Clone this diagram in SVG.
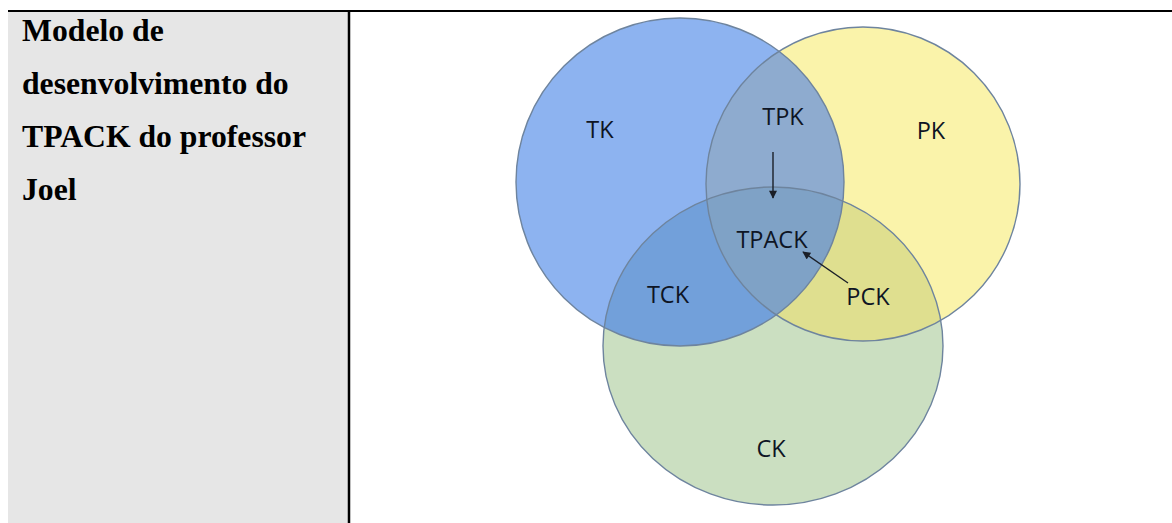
<svg xmlns="http://www.w3.org/2000/svg" width="1172" height="523" viewBox="0 0 1172 523">
  <style>
    .cell-title { font-family: "Liberation Serif", "Times New Roman", serif; font-weight: bold; font-size: 31.7px; fill: #000; }
    .lbl { font-family: "Open Sans", "Noto Sans", sans-serif; font-size: 23.5px; fill: #0e1524; text-anchor: middle; }
    .edge { fill: none; stroke: #6e849e; stroke-width: 1.4; }
    .arrow { stroke: #1b1f27; stroke-width: 1.4; fill: none; }
  </style>
  <defs>
    <marker id="head" viewBox="0 0 10 10" refX="9" refY="5" markerWidth="9" markerHeight="8" markerUnits="userSpaceOnUse" orient="auto">
      <path d="M0,0 L10,5 L0,10 z" fill="#1b1f27"/>
    </marker>
    <clipPath id="clipT"><circle cx="680" cy="182" r="164"/></clipPath>
    <clipPath id="clipP"><circle cx="863" cy="184" r="157"/></clipPath>
    <clipPath id="clipC"><ellipse cx="773" cy="346" rx="170" ry="159"/></clipPath>
  </defs>

  <!-- table: shaded label cell and borders -->
  <rect x="8" y="11" width="341" height="512" fill="#e6e6e6"/>
  <line x1="8" y1="11" x2="1172" y2="11" stroke="#000" stroke-width="2"/>
  <line x1="349" y1="10" x2="349" y2="523" stroke="#000" stroke-width="2.5"/>

  <g id="caption">
    <text class="cell-title" x="22" y="41">Modelo de</text>
    <text class="cell-title" x="22" y="94">desenvolvimento do</text>
    <text class="cell-title" x="22" y="147">TPACK do professor</text>
    <text class="cell-title" x="22" y="200">Joel</text>
  </g>

  <!-- base circles -->
  <g id="TK-circle">
    <circle cx="680" cy="182" r="164" fill="#8db3f0"/>
  </g>
  <g id="PK-circle">
    <circle cx="863" cy="184" r="157" fill="#faf3aa"/>
  </g>
  <g id="CK-circle">
    <ellipse cx="773" cy="346" rx="170" ry="159" fill="#cbdfc1"/>
  </g>

  <!-- pairwise overlaps -->
  <g id="TPK-region" clip-path="url(#clipT)">
    <circle cx="863" cy="184" r="157" fill="#8eabcf"/>
  </g>
  <g id="TCK-region" clip-path="url(#clipT)">
    <ellipse cx="773" cy="346" rx="170" ry="159" fill="#72a0da"/>
  </g>
  <g id="PCK-region" clip-path="url(#clipP)">
    <ellipse cx="773" cy="346" rx="170" ry="159" fill="#dfdf8f"/>
  </g>
  <!-- triple overlap -->
  <g id="TPACK-region" clip-path="url(#clipT)">
    <g clip-path="url(#clipP)">
      <ellipse cx="773" cy="346" rx="170" ry="159" fill="#7fa2c6"/>
    </g>
  </g>

  <!-- outlines -->
  <g id="outlines">
    <circle class="edge" cx="680" cy="182" r="164"/>
    <circle class="edge" cx="863" cy="184" r="157"/>
    <ellipse class="edge" cx="773" cy="346" rx="170" ry="159"/>
  </g>

  <!-- labels -->
  <g id="labels">
    <text class="lbl" x="600" y="138">TK</text>
    <text class="lbl" x="783" y="125">TPK</text>
    <text class="lbl" x="931" y="139">PK</text>
    <text class="lbl" x="772" y="248">TPACK</text>
    <text class="lbl" x="668" y="303">TCK</text>
    <text class="lbl" x="868" y="305">PCK</text>
    <text class="lbl" x="771" y="457">CK</text>
  </g>

  <!-- connectors -->
  <g id="connectors">
    <line class="arrow" x1="773" y1="152" x2="773" y2="198" marker-end="url(#head)"/>
    <line class="arrow" x1="848" y1="283" x2="803" y2="252" marker-end="url(#head)"/>
  </g>
</svg>
